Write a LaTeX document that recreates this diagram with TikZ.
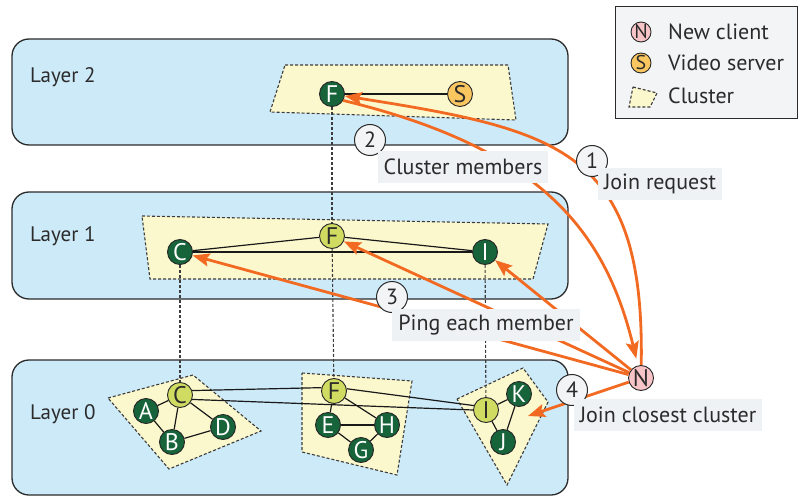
\documentclass[tikz,border=0pt]{standalone}
\usepackage{fontspec}
\setmainfont{PT Sans}
\usetikzlibrary{arrows.meta}
\definecolor{layerblue}{HTML}{CDEAF9}
\definecolor{clusteryellow}{HTML}{FCF8CE}
\definecolor{darkgreen}{HTML}{17643A}
\definecolor{lightgreen}{HTML}{CFDB61}
\definecolor{pinkn}{HTML}{F7C5C8}
\definecolor{orangeS}{HTML}{F9C660}
\definecolor{arroworange}{HTML}{F26A22}
\definecolor{labelgray}{HTML}{EEF2F4}
\definecolor{legendgray}{HTML}{F2F4F5}
\definecolor{inkgray}{HTML}{2B2B2B}
\definecolor{dashgray}{HTML}{3C3C3C}
\tikzset{
  layerbox/.style={draw=inkgray, line width=1.3pt, fill=layerblue, rounded corners=17pt},
  clusterpoly/.style={draw=dashgray, dash pattern=on 3pt off 2pt, line width=1.1pt, fill=clusteryellow},
  gnode/.style={circle, draw=black!85, line width=0.9pt, minimum size=25pt, inner sep=0pt, font=\fontsize{24}{24}\selectfont},
  darknode/.style={gnode, fill=darkgreen, text=white},
  lightnode/.style={gnode, fill=lightgreen, text=inkgray},
  clientnode/.style={gnode, fill=pinkn, text=inkgray},
  servernode/.style={gnode, fill=orangeS, text=inkgray},
  legendnode/.style={circle, draw=black!85, line width=0.9pt, minimum size=20pt, inner sep=0pt, text=inkgray, font=\fontsize{20}{20}\selectfont},
  legendtext/.style={anchor=west, inner sep=0pt, text=inkgray, font=\fontsize{22}{22}\selectfont},
  layertext/.style={anchor=west, inner sep=0pt, text=inkgray, font=\fontsize{21}{21}\selectfont},
  edge/.style={draw=black!90, line width=1.2pt},
  vdash/.style={draw=dashgray, dash pattern=on 3pt off 2pt, line width=1.1pt},
  orangearrow/.style={draw=arroworange, line width=2.8pt, -{Stealth[length=17pt,width=13pt,inset=3pt]}},
  labelbox/.style={fill=labelgray, inner xsep=6pt, inner ysep=0pt, minimum height=32pt, text=inkgray, font=\fontsize{22}{22}\selectfont},
  numcircle/.style={circle, draw=inkgray, line width=1pt, fill=legendgray, minimum size=31pt, inner sep=0pt, text=inkgray, font=\fontsize{22}{22}\selectfont}
}
\begin{document}
\begin{tikzpicture}[x=1pt,y=-1pt]
\useasboundingbox (0,0) rectangle (802,497);
% layers
\draw[layerbox] (12,39) rectangle (568,145);
\draw[layerbox] (12,192) rectangle (568,299);
\draw[layerbox] (12,360) rectangle (568,495);
\node[layertext] (L2) at (30,77) {Layer 2};
\node[layertext] (L1) at (30,236) {Layer 1};
\node[layertext] (L0) at (30,414) {Layer 0};
% clusters
\draw[clusterpoly] (285,65) -- (508,65) -- (516,120) -- (270,112) -- cycle;
\draw[clusterpoly] (142,216) -- (548,224) -- (533,279) -- (150,279) -- cycle;
\draw[clusterpoly] (108,398) -- (193,375) -- (261,431) -- (169,469) -- cycle;
\draw[clusterpoly] (302,373) -- (412,381) -- (397,475) -- (302,452) -- cycle;
\draw[clusterpoly] (457,399) -- (523,368) -- (548,402) -- (507,485) -- cycle;
% nodes
\node[darknode] (F2) at (332,94) {F};
\node[servernode] (S) at (460,94) {S};
\node[darknode] (C1) at (180,252) {C};
\node[lightnode] (F1) at (332,236) {F};
\node[darknode] (I1) at (485,252) {I};
\node[lightnode] (C0) at (180,395) {C};
\node[darknode] (A) at (146,411) {A};
\node[darknode] (B) at (172,442) {B};
\node[darknode] (D) at (223,427) {D};
\node[lightnode] (F0) at (334,391) {F};
\node[darknode] (E) at (328,425) {E};
\node[darknode] (H) at (387,425) {H};
\node[darknode] (G) at (361,450) {G};
\node[lightnode] (I0) at (486,410) {I};
\node[darknode] (K) at (519,394) {K};
\node[darknode] (J) at (503,442) {J};
\node[clientnode] (N) at (641,378) {N};
% vertical dashed links
\draw[vdash] (C1) -- (C0);
\draw[vdash] (F2) -- (F1);
\draw[vdash] (F1) -- (F0);
\draw[vdash] (I1) -- (I0);
% edges
\draw[edge] (F2) -- (S);
\draw[edge] (C1) -- (F1);
\draw[edge] (F1) -- (I1);
\draw[edge] (C1) -- (I1);
\draw[edge] (C0) -- (A);
\draw[edge] (C0) -- (B);
\draw[edge] (C0) -- (D);
\draw[edge] (A) -- (B);
\draw[edge] (B) -- (D);
\draw[edge] (F0) -- (E);
\draw[edge] (F0) -- (H);
\draw[edge] (E) -- (H);
\draw[edge] (E) -- (G);
\draw[edge] (G) -- (H);
\draw[edge] (I0) -- (K);
\draw[edge] (I0) -- (J);
\draw[edge] (K) -- (J);
\draw[edge] (C0.20) -- (F0.165);
\draw[edge] (C0.-20) -- (I0.180);
\draw[edge] (F0.10) -- (I0.160);
% orange arrows
\coordinate (T4) at (528,416);
\draw[orangearrow] (N) .. controls (645,150) and (560,130) .. (F2);
\draw[orangearrow, shorten >=7pt] (F2.-30) .. controls (540,148) and (605,230) .. (N);
\draw[orangearrow] (N) -- (C1);
\draw[orangearrow] (N) -- (F1);
\draw[orangearrow] (N) -- (I1);
\draw[orangearrow] (N) -- (T4);
% labels
\node[numcircle] (n1) at (592,161) {1};
\node[numcircle] (n2) at (370,140) {2};
\node[numcircle] (n3) at (392,297) {3};
\node[numcircle] (n4) at (572,390) {4};
\node[labelbox] (lb2) at (463,167) {Cluster members};
\node[labelbox] (lb1) at (660,184) {Join request};
\node[labelbox] (lb3) at (486,325) {Ping each member};
\node[labelbox] (lb4) at (668,415) {Join closest cluster};
% legend
\node[draw=inkgray, line width=1pt, fill=legendgray, minimum width=182pt, minimum height=112pt, anchor=north west, inner sep=0pt] (legend) at (615,6) {};
\node[legendnode, fill=pinkn] (lgN) at (641,32) {N};
\node[legendnode, fill=orangeS] (lgS) at (641,63) {S};
\draw[clusterpoly] (633,87) -- (657,93) -- (650,107) -- (629,107) -- cycle;
\node[legendtext] (lgNt) at (668,32) {New client};
\node[legendtext] (lgSt) at (668,63) {Video server};
\node[legendtext] (lgCt) at (668,96) {Cluster};
\end{tikzpicture}
\end{document}
